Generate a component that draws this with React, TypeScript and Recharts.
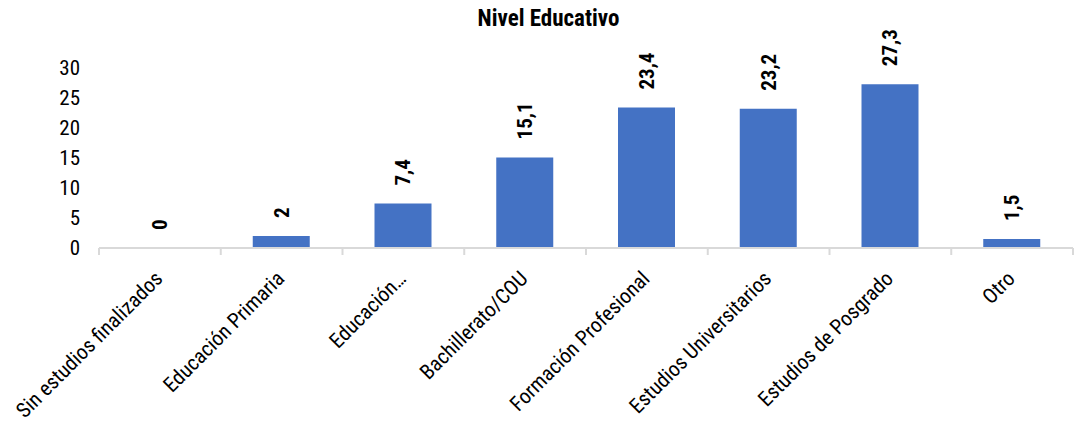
import { Bar, ComposedChart, LabelList, Line, XAxis, YAxis } from "recharts";

const categories = [
  "Sin estudios finalizados",
  "Educación Primaria",
  "Educación…",
  "Bachillerato/COU",
  "Formación Profesional",
  "Estudios Universitarios",
  "Estudios de Posgrado",
  "Otro",
];

const values = [0, 2, 7.4, 15.1, 23.4, 23.2, 27.3, 1.5];

const yTicks = [0, 5, 10, 15, 20, 25, 30];

const data = categories.map((name, i) => ({ name, value: values[i] }));

const FONT = "'Roboto Condensed', 'Liberation Sans Narrow', Roboto, sans-serif";
const WIDTH = 1077;
const HEIGHT = 423;
const LEFT = 99;
const RIGHT = 4;
const AXIS_COLOR = "#d9d9d9";
const band = (WIDTH - LEFT - RIGHT) / categories.length;

function CategoryTick(props: any) {
  const { x, y, payload, index } = props;
  // y is the axis line position (tickSize/tickMargin are 0)
  const left = x - band / 2;
  const right = x + band / 2;
  const tx = x + 4;
  const ty = y + 32;
  return (
    <g>
      <line x1={left} y1={y} x2={left} y2={y + 7} stroke={AXIS_COLOR} strokeWidth={2} />
      {index === categories.length - 1 && (
        <line x1={right} y1={y} x2={right} y2={y + 7} stroke={AXIS_COLOR} strokeWidth={2} />
      )}
      <text
        x={tx}
        y={ty}
        transform={`rotate(-45, ${tx}, ${ty})`}
        textAnchor="end"
        fontFamily={FONT}
        fontSize={21}
        fill="#000"
      >
        {payload.value}
      </text>
    </g>
  );
}

// value labels sit on an invisible line so that the 0 bar also gets one
function ValueLabel(props: any) {
  const { x, y, value } = props;
  const ty = y - 18;
  return (
    <text
      x={x}
      y={ty}
      transform={`rotate(-90, ${x}, ${ty})`}
      textAnchor="start"
      dominantBaseline="central"
      fontFamily={FONT}
      fontWeight="bold"
      fontSize={21}
      fill="#000"
    >
      {String(value).replace(".", ",")}
    </text>
  );
}

export default function App() {
  return (
    <div
      style={{
        position: "absolute",
        left: 0,
        top: 0,
        width: WIDTH,
        height: HEIGHT,
        background: "#fff",
      }}
    >
      <div
        style={{
          position: "absolute",
          top: 5,
          left: 0,
          width: WIDTH,
          textAlign: "center",
          fontFamily: FONT,
          fontWeight: "bold",
          fontSize: 23,
          color: "#000",
          paddingLeft: 20,
          boxSizing: "border-box",
        }}
      >
        Nivel Educativo
      </div>
      <ComposedChart
        width={WIDTH}
        height={HEIGHT}
        data={data}
        margin={{ top: 68, right: RIGHT, left: 0, bottom: 0 }}
      >
        <XAxis
          dataKey="name"
          interval={0}
          height={175}
          axisLine={{ stroke: AXIS_COLOR, strokeWidth: 2 }}
          tickLine={false}
          tickSize={0}
          tickMargin={0}
          tick={<CategoryTick />}
        />
        <YAxis
          domain={[0, 30]}
          ticks={yTicks}
          interval={0}
          width={LEFT}
          axisLine={false}
          tickLine={false}
          tickSize={0}
          tickMargin={19}
          tick={{ fontFamily: FONT, fontSize: 21, fill: "#000" }}
        />
        <Bar dataKey="value" fill="#4472C4" barSize={57} isAnimationActive={false} />
        <Line
          dataKey="value"
          stroke="none"
          dot={false}
          activeDot={false}
          isAnimationActive={false}
        >
          <LabelList dataKey="value" content={<ValueLabel />} />
        </Line>
      </ComposedChart>
    </div>
  );
}
